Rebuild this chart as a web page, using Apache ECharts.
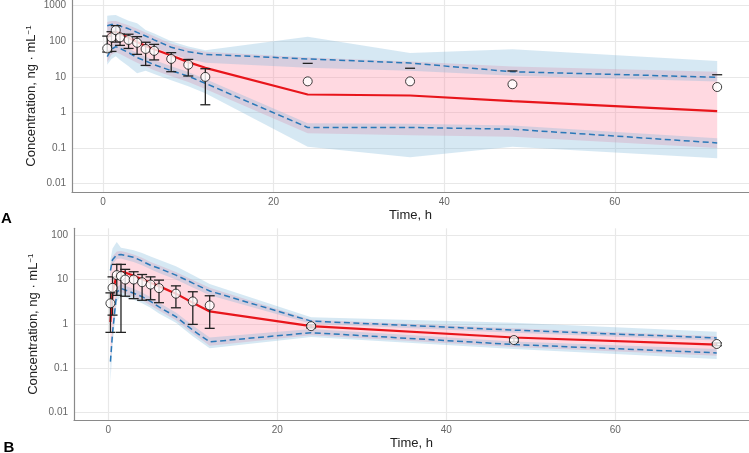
<!DOCTYPE html>
<html>
<head>
<meta charset="utf-8">
<script src="https://cdn.jsdelivr.net/npm/echarts@6/dist/echarts.min.js"></script>
<style>
  html, body { margin: 0; padding: 0; background: #fff; }
  #chart { width: 749px; height: 453px; }
</style>
</head>
<body>
<div id="chart"></div>
<script>
// ---- panel A ----
var timeA = [0.5, 1, 1.5, 2, 3, 4, 5, 6, 8, 10, 12, 24, 36, 48, 72];
var medA = [126, 178, 186, 166, 126, 95, 74, 60, 40, 26, 18, 3.2, 3.0, 2.1, 1.1];
var p95A = [275, 295, 295, 270, 224, 178, 141, 110, 68, 51, 43, 32, 24.5, 14, 9.8];
var p05A = [37, 60, 71, 63, 48, 35, 28, 22, 15, 10.5, 6.6, 0.38, 0.38, 0.34, 0.14];
var piHiA = [347, 372, 372, 339, 282, 224, 178, 138, 85, 63, 51, 35, 27, 19.5, 14];
var piLoA = [26, 42, 49, 44, 33, 25, 19.5, 15.5, 10.5, 7.2, 4.6, 0.26, 0.23, 0.21, 0.10];
var hiOuterA = [525, 537, 550, 479, 380, 324, 209, 166, 100, 71, 56, 135, 47, 60, 28];
var hiInnerA = [174, 186, 186, 170, 141, 112, 89, 69, 43, 32, 25, 18, 14.8, 10.7, 7.4];
var loInnerA = [49, 79, 93, 83, 63, 47, 37, 30, 20, 13.8, 8.7, 0.50, 0.48, 0.43, 0.19];
var loOuterA = [22, 32, 38, 30, 20, 12.6, 15, 12, 8, 5.5, 3.5, 0.11, 0.055, 0.11, 0.052];

var obsTimeA = [0.5, 1, 1.5, 2, 3, 4, 5, 6, 8, 10, 12, 24, 36, 48, 72];
var obsMeanA = [63, 129, 205, 129, 109, 91, 61, 54, 32, 22, 10, 7.5, 7.5, 6.2, 5.2];
var obsHiA = [140, 186, 275, 160, 158, 135, 94, 82, 48, 31, 17, 24, 17.5, 14.7, 11.5];
var obsLoA = [50, 52, 95, 77, 63, 43, 21, 30, 14, 10.6, 1.65, null, null, null, null];

// ---- panel B ----
var timeB = [0.25, 0.5, 1, 1.5, 2, 3, 4, 5, 6, 8, 10, 12, 24, 48, 72];
var medB = [1.1, 5.2, 12.6, 15, 14.5, 12.2, 10.2, 8.5, 7.1, 4.8, 3.0, 1.9, 0.89, 0.49, 0.34];
var p95B = [16, 28, 36, 37, 35, 32, 26, 21, 18, 12.6, 8.3, 5.5, 1.15, 0.72, 0.48];
var p05B = [0.14, 0.63, 5.2, 6.3, 5.8, 4.9, 4.1, 3.2, 2.4, 1.45, 0.72, 0.39, 0.63, 0.34, 0.22];
var piHiB = [21, 33, 43, 44, 42, 37, 31, 25, 21, 14.8, 9.8, 6.5, 1.23, 0.79, 0.52];
var piLoB = [0.115, 0.52, 4.4, 5.2, 4.8, 4.1, 3.4, 2.6, 2.0, 1.2, 0.60, 0.32, 0.55, 0.30, 0.19];
var hiOuterB = [28, 50, 71, 52, 50, 46, 40, 33, 28, 20, 12.6, 7.9, 1.41, 1.05, 0.66];
var hiInnerB = [12, 22, 29, 30, 28, 25, 21, 17, 14, 10, 6.6, 4.4, 1.0, 0.63, 0.42];
var loInnerB = [0.17, 0.79, 6.6, 7.9, 7.2, 6.2, 5.1, 4.0, 3.0, 1.8, 0.91, 0.49, 0.76, 0.40, 0.27];
var loOuterB = [0.046, 0.32, 3.2, 4.2, 4.0, 3.5, 2.9, 2.3, 1.7, 1.05, 0.52, 0.28, 0.50, 0.27, 0.16];

var obsTimeB = [0.25, 0.5, 1, 1.5, 2, 3, 4, 5, 6, 8, 10, 12, 24, 48, 72];
var obsMeanB = [2.9, 6.5, 12.6, 12, 10, 10, 8.7, 7.7, 6.4, 4.8, 3.2, 2.6, 0.885, 0.43, 0.35];
var obsHiB = [5.0, 11.5, 22, 22, 17, 15, 13, 11.5, 9.7, 7.2, 5.3, 4.3, 0.96, 0.47, 0.37];
var obsLoB = [0.64, 1.57, 4.4, 0.64, 4.2, 3.7, 3.4, 3.5, 3.0, 2.3, 0.97, 0.79, 0.81, 0.39, 0.32];

var PINK = 'rgba(255,130,155,0.3)';
var BLUE = 'rgba(120,180,215,0.3)';
var RED = '#e8151b';
var DASH = '#2a78b8';

function band(idx, t, lo, hi, color, z) {
  return {
    type: 'custom', xAxisIndex: idx, yAxisIndex: idx, z: z, silent: true,
    data: t.map(function (v, i) { return [v, lo[i], hi[i]]; }),
    encode: { x: 0, y: [1, 2] },
    renderItem: function (params, api) {
      if (params.dataIndex !== 0) return null;
      var pts = [];
      for (var i = 0; i < t.length; i++) pts.push(api.coord([t[i], hi[i]]));
      for (var j = t.length - 1; j >= 0; j--) pts.push(api.coord([t[j], lo[j]]));
      return { type: 'polygon', shape: { points: pts }, style: { fill: color } };
    }
  };
}

function line(idx, t, v, color, dashed, width, z) {
  return {
    type: 'line', xAxisIndex: idx, yAxisIndex: idx, z: z, silent: true,
    data: t.map(function (x, i) { return [x, v[i]]; }),
    showSymbol: false, symbol: 'none',
    lineStyle: { color: color, width: width, type: dashed ? [6, 3.5] : 'solid' }
  };
}

function errBars(idx, t, mean, lo, hi) {
  return {
    type: 'custom', xAxisIndex: idx, yAxisIndex: idx, z: 6, silent: true,
    data: t.map(function (x, i) { return [x, mean[i], hi[i]]; }),
    encode: { x: 0, y: [1, 2] },
    renderItem: function (params, api) {
      var i = params.dataIndex;
      var top = api.coord([t[i], hi[i]]);
      var st = { stroke: '#222', lineWidth: 1.3 };
      var kids = [{ type: 'line', shape: { x1: top[0] - 5, y1: top[1], x2: top[0] + 5, y2: top[1] }, style: st }];
      if (lo[i] != null) {
        var bot = api.coord([t[i], lo[i]]);
        kids.push({ type: 'line', shape: { x1: bot[0] - 5, y1: bot[1], x2: bot[0] + 5, y2: bot[1] }, style: st });
        kids.push({ type: 'line', shape: { x1: top[0], y1: top[1], x2: bot[0], y2: bot[1] }, style: st });
      }
      return { type: 'group', children: kids };
    }
  };
}

function points(idx, t, v) {
  return {
    type: 'scatter', xAxisIndex: idx, yAxisIndex: idx, z: 7, silent: true,
    data: t.map(function (x, i) { return [x, v[i]]; }),
    symbol: 'circle', symbolSize: 9,
    itemStyle: { color: '#fff', borderColor: '#111', borderWidth: 1 }
  };
}

function fmt(v) { return String(+(+v).toPrecision(6)); }

var yName = 'Concentration, ng \u00B7 mL{sup|\u22121}';

function xAxis(idx, min, max) {
  return {
    type: 'value', gridIndex: idx, min: min, max: max,
    name: 'Time, h', nameLocation: 'middle', nameGap: 17, nameMoveOverlap: false,
    nameTextStyle: { color: '#222', fontSize: 13, fontFamily: 'Liberation Sans' },
    axisLine: { onZero: false, lineStyle: { color: '#8a8a8a', width: 1.2 } },
    axisTick: { show: false },
    axisLabel: { color: '#666', fontSize: 10, margin: 5, fontFamily: 'Liberation Sans',
      showMinLabel: false, showMaxLabel: false, formatter: fmt },
    splitLine: { show: true, showMinLine: false, showMaxLine: false,
      lineStyle: { color: '#e8e8e8', width: 1.2 } }
  };
}

function yAxis(idx, min, max) {
  return {
    type: 'log', logBase: 10, gridIndex: idx, min: min, max: max,
    name: yName, nameLocation: 'middle', nameGap: 34, nameMoveOverlap: false,
    nameTextStyle: { color: '#222', fontSize: 13, fontFamily: 'Liberation Sans',
      rich: { sup: { fontSize: 8, verticalAlign: 'top', color: '#222', fontFamily: 'Liberation Sans' } } },
    axisLine: { show: true, onZero: false, lineStyle: { color: '#8a8a8a', width: 1.2 } },
    axisTick: { show: false },
    axisLabel: { color: '#666', fontSize: 10, margin: 6, fontFamily: 'Liberation Sans',
      showMinLabel: false, showMaxLabel: false, formatter: fmt },
    splitLine: { show: true, showMinLine: false, showMaxLine: false,
      lineStyle: { color: '#e8e8e8', width: 1.2 } }
  };
}

function panel(idx, t, hiIn, loIn, hiOut, loOut, piLo, piHi, med, p05, p95, ot, om, ol, oh) {
  return [
    band(idx, t, piLo, piHi, PINK, 1),
    band(idx, t, hiIn, hiOut, BLUE, 2),
    band(idx, t, loOut, loIn, BLUE, 2),
    line(idx, t, p95, DASH, true, 1.5, 3),
    line(idx, t, p05, DASH, true, 1.5, 3),
    line(idx, t, med, RED, false, 2.2, 4),
    errBars(idx, ot, om, ol, oh),
    points(idx, ot, om)
  ];
}

var chart = echarts.init(document.getElementById('chart'), null, { renderer: 'canvas' });
chart.setOption({
  animation: false,
  backgroundColor: '#fff',
  grid: [
    { left: 72, top: 0, right: 0, height: 192, containLabel: false, outerBoundsMode: 'none' },
    { left: 74, top: 228.3, right: 0, height: 191.7, containLabel: false, outerBoundsMode: 'none' }
  ],
  xAxis: [xAxis(0, -3.63, 75.73), xAxis(1, -4.06, 75.82)],
  yAxis: [yAxis(0, 0.00585, 1446), yAxis(1, 0.0067, 143.9)],
  graphic: [
    { type: 'text', left: 1, top: 211, style: { text: 'A', font: 'bold 15px "Liberation Sans"', fill: '#000' } },
    { type: 'text', left: 3.5, top: 440, style: { text: 'B', font: 'bold 15px "Liberation Sans"', fill: '#000' } }
  ],
  series: [].concat(
    panel(0, timeA, hiInnerA, loInnerA, hiOuterA, loOuterA, piLoA, piHiA, medA, p05A, p95A,
      obsTimeA, obsMeanA, obsLoA, obsHiA),
    panel(1, timeB, hiInnerB, loInnerB, hiOuterB, loOuterB, piLoB, piHiB, medB, p05B, p95B,
      obsTimeB, obsMeanB, obsLoB, obsHiB)
  )
});
</script>
</body>
</html>
